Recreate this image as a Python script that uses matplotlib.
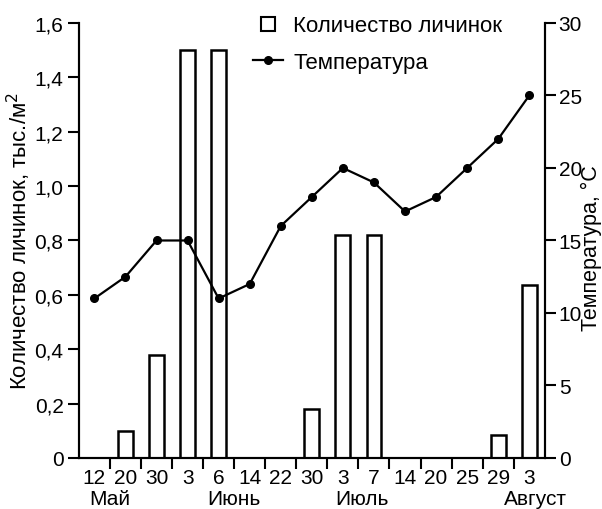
import matplotlib.pyplot as plt
from matplotlib.lines import Line2D
import numpy as np

plt.rcParams['font.family'] = ['Liberation Sans', 'DejaVu Sans']

# dates of sampling and the months under them
days = ["12", "20", "30", "3", "6", "14", "22", "30", "3", "7", "14", "20", "25", "29", "3"]
months = ["Май", "Июнь", "Июль", "Август"]
month_pos = [0.5, 4.5, 8.6, 14.2]

# larvae, thousand per m2
larvae = [0, 0.1, 0.38, 1.5, 1.5, 0, 0, 0.18, 0.82, 0.82, 0, 0, 0, 0.085, 0.635]
# temperature, C
temp = [11, 12.5, 15, 15, 11, 12, 16, 18, 20, 19, 17, 18, 20, 22, 25]

x = np.arange(len(days))

fig = plt.figure(figsize=(6.02, 5.10), dpi=100)
ax = fig.add_axes([0.131, 0.1, 0.774, 0.853])
ax2 = ax.twinx()

ax.bar(x, larvae, width=0.48, facecolor="white", edgecolor="black", linewidth=1.8)
ax2.plot(x, temp, color="black", linewidth=1.6, marker="o", markersize=5.5)

ax.set_xlim(-0.5, len(days) - 0.5)
ax.set_ylim(0, 1.6)
ax2.set_ylim(0, 30)

for a in (ax, ax2):
    a.spines["top"].set_visible(False)
    for s in ("left", "right", "bottom"):
        a.spines[s].set_linewidth(1.5)

ax.set_yticks(np.arange(0, 1.61, 0.2))
ax.set_yticklabels(["0", "0,2", "0,4", "0,6", "0,8", "1,0", "1,2", "1,4", "1,6"])
ax2.set_yticks(range(0, 31, 5))

# ticks between categories, labels at the centres
ax.set_xticks(np.arange(0.5, len(days) - 1, 1.0))
ax.set_xticklabels([])
ax.set_xticks(x, minor=True)
ax.set_xticklabels(days, minor=True)
ax.tick_params(axis="x", which="minor", length=0, labelsize=15, pad=7)
ax.tick_params(axis="x", which="major", length=8, width=1.5, direction="out")
ax.tick_params(axis="y", length=8, width=1.5, labelsize=15, pad=3)
ax2.tick_params(axis="y", length=8, width=1.5, labelsize=15, pad=2)

for m, p in zip(months, month_pos):
    ax.text(p, -0.094, m, transform=ax.get_xaxis_transform(), ha="center", va="center", fontsize=15)

ax.set_ylabel("Количество личинок, тыс./м$^2$", fontsize=16, labelpad=1)
ax2.set_ylabel("Температура, °С", fontsize=15.5)
ax2.yaxis.set_label_coords(1.077, 0.485)

handles = [
    Line2D([], [], linestyle="none", marker="s", markersize=10, markerfacecolor="white",
           markeredgecolor="black", markeredgewidth=1.5),
    Line2D([], [], color="black", linewidth=1.6, marker="o", markersize=5.5),
]
fig.legend(handles, ["Количество личинок", "Температура"], loc="upper left",
           bbox_to_anchor=(0.42, 0.968), frameon=False, fontsize=16,
           handlelength=1.36, handletextpad=0.45, labelspacing=0.7,
           borderpad=0, borderaxespad=0)

fig.savefig("out.png", dpi=100)
